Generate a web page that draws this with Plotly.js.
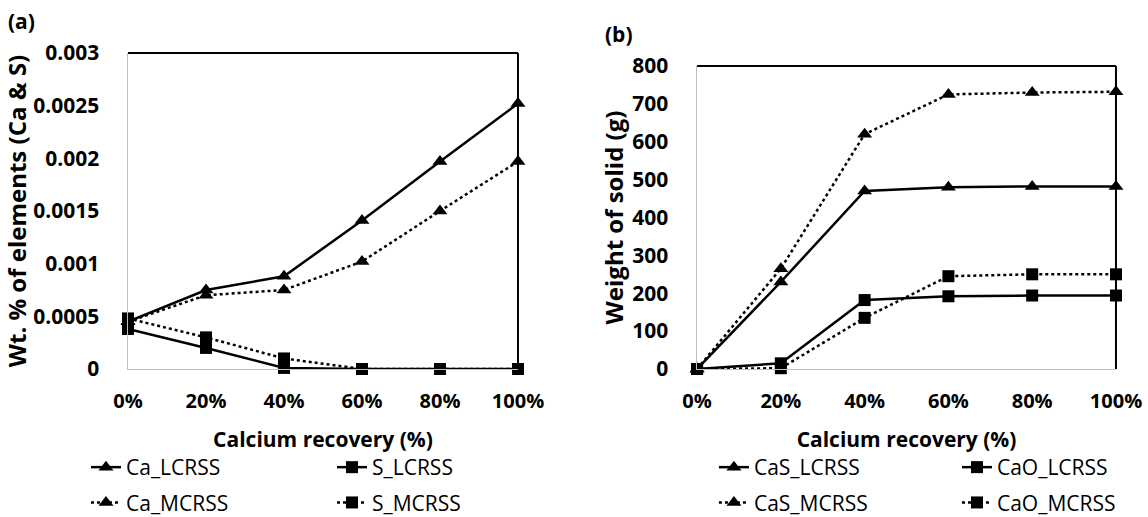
<!DOCTYPE html>
<html>
<head>
<meta charset="utf-8">
<script src="https://cdn.plot.ly/plotly-3.0.1.min.js"></script>
<style>html,body{margin:0;padding:0;background:#fff;}#chart{width:1148px;height:517px;}</style>
</head>
<body>
<div id="chart"></div>
<script>
// Categories (x)
const recovery = ['0%', '20%', '40%', '60%', '80%', '100%'];

// Panel (a): Wt. % of elements
const Ca_LCRSS = [0.00045, 0.00075, 0.00088, 0.00141, 0.00197, 0.00252];
const Ca_MCRSS = [0.00045, 0.00070, 0.00075, 0.00102, 0.00150, 0.00197];
const S_LCRSS  = [0.00038, 0.00020, 0.00001, 0, 0, 0];
const S_MCRSS  = [0.00048, 0.00030, 0.00010, 0, 0, 0];

// Panel (b): Weight of solid (g)
const CaS_LCRSS = [0, 230, 470, 480, 482, 482];
const CaS_MCRSS = [0, 265, 620, 725, 730, 732];
const CaO_LCRSS = [0, 15, 182, 192, 194, 194];
const CaO_MCRSS = [0, 2, 135, 245, 250, 250];

// Tick labels
const yTicksA = [0, 0.0005, 0.001, 0.0015, 0.002, 0.0025, 0.003];
const yTextA = ['0', '0.0005', '0.001', '0.0015', '0.002', '0.0025', '0.003'];
const yTicksB = [0, 100, 200, 300, 400, 500, 600, 700, 800];

const FONT = 'Open Sans, Liberation Sans, sans-serif';

function tr(name, y, sym, dash, xa, ya, leg) {
  return {
    type: 'scatter', mode: 'lines+markers', name: name,
    x: recovery, y: y, xaxis: xa, yaxis: ya, legend: leg,
    line: {color: '#000', width: 2.5, dash: dash},
    marker: {symbol: sym, size: sym === 'square' ? 12 : 13, color: '#000'},
    cliponaxis: false
  };
}

const data = [
  tr('Ca_LCRSS', Ca_LCRSS, 'triangle-up', 'solid', 'x', 'y', 'legend'),
  tr('Ca_MCRSS', Ca_MCRSS, 'triangle-up', 'dot', 'x', 'y', 'legend'),
  tr('S_LCRSS', S_LCRSS, 'square', 'solid', 'x', 'y', 'legend2'),
  tr('S_MCRSS', S_MCRSS, 'square', 'dot', 'x', 'y', 'legend2'),
  tr('CaS_LCRSS', CaS_LCRSS, 'triangle-up', 'solid', 'x2', 'y2', 'legend3'),
  tr('CaS_MCRSS', CaS_MCRSS, 'triangle-up', 'dot', 'x2', 'y2', 'legend3'),
  tr('CaO_LCRSS', CaO_LCRSS, 'square', 'solid', 'x2', 'y2', 'legend4'),
  tr('CaO_MCRSS', CaO_MCRSS, 'square', 'dot', 'x2', 'y2', 'legend4')
];
data.forEach((d, i) => d.legendgroup = 'g' + i);

const xTickFont = {family: FONT, size: 20, color: '#000', weight: 'bold'};
const yTickFont = {family: FONT, size: 21, color: '#000', weight: 'bold'};
const xTitleFont = {family: FONT, size: 21, color: '#000', weight: 'bold'};
const yTitleFont = {family: FONT, size: 24, color: '#000', weight: 'bold'};
const legFont = {family: FONT, size: 21, color: '#000'};

function xax(domain, anchor) {
  return {
    domain: domain, anchor: anchor, type: 'category',
    categoryorder: 'array', categoryarray: recovery,
    range: [0, 5], showgrid: false, zeroline: false,
    showline: true, linecolor: '#bfbfbf', linewidth: 1.5,
    ticks: '', tickfont: xTickFont, ticklabelstandoff: 14,
    title: {text: 'Calcium recovery (%)', font: xTitleFont, standoff: 19},
    fixedrange: true
  };
}
function leg(x) {
  return {
    x: x, xanchor: 'left', y: 0.1354, yanchor: 'top',
    orientation: 'v', font: legFont, bgcolor: 'rgba(0,0,0,0)',
    tracegroupgap: 5
  };
}

const layout = {
  width: 1148, height: 517,
  margin: {l: 0, r: 0, t: 0, b: 0, autoexpand: false},
  paper_bgcolor: '#fff', plot_bgcolor: '#fff',
  showlegend: true,
  xaxis: xax([0.1115, 0.4512], 'y'),
  yaxis: {
    domain: [0.2863, 0.8975], anchor: 'x',
    range: [0, 0.003], tickvals: yTicksA, ticktext: yTextA,
    showgrid: false, zeroline: false, showline: true, linecolor: '#bfbfbf', linewidth: 1.5,
    ticks: '', tickfont: yTickFont, ticklabelstandoff: 23,
    title: {text: 'Wt. % of elements (Ca & S)', font: yTitleFont, standoff: 0},
    fixedrange: true
  },
  xaxis2: xax([0.6072, 0.9721], 'y2'),
  yaxis2: {
    domain: [0.2863, 0.8723], anchor: 'x2',
    range: [0, 800], tickvals: yTicksB,
    showgrid: false, zeroline: false, showline: true, linecolor: '#bfbfbf', linewidth: 1.5,
    ticks: '', tickfont: yTickFont, ticklabelstandoff: 23,
    title: {text: 'Weight of solid (g)', font: yTitleFont, standoff: 2},
    fixedrange: true
  },
  legend: leg(0.0749),
  legend2: leg(0.2892),
  legend3: leg(0.6219),
  legend4: leg(0.8336),
  shapes: [
    {type: 'line', xref: 'x domain', yref: 'y domain', x0: 0, x1: 1, y0: 1, y1: 1, line: {color: '#000', width: 2}},
    {type: 'line', xref: 'x domain', yref: 'y domain', x0: 1, x1: 1, y0: 0, y1: 1, line: {color: '#000', width: 2}},
    {type: 'line', xref: 'x2 domain', yref: 'y2 domain', x0: 0, x1: 1, y0: 1, y1: 1, line: {color: '#000', width: 2}},
    {type: 'line', xref: 'x2 domain', yref: 'y2 domain', x0: 1, x1: 1, y0: 0, y1: 1, line: {color: '#000', width: 2}}
  ],
  annotations: [
    {text: '(a)', xref: 'paper', yref: 'paper', x: 0.005, y: 0.99, xanchor: 'left', yanchor: 'top', showarrow: false, font: {family: FONT, size: 21, color: '#000', weight: 'bold'}},
    {text: '(b)', xref: 'paper', yref: 'paper', x: 0.525, y: 0.965, xanchor: 'left', yanchor: 'top', showarrow: false, font: {family: FONT, size: 21, color: '#000', weight: 'bold'}}
  ]
};

Plotly.newPlot('chart', data, layout, {displayModeBar: false, staticPlot: true});
</script>
</body>
</html>
